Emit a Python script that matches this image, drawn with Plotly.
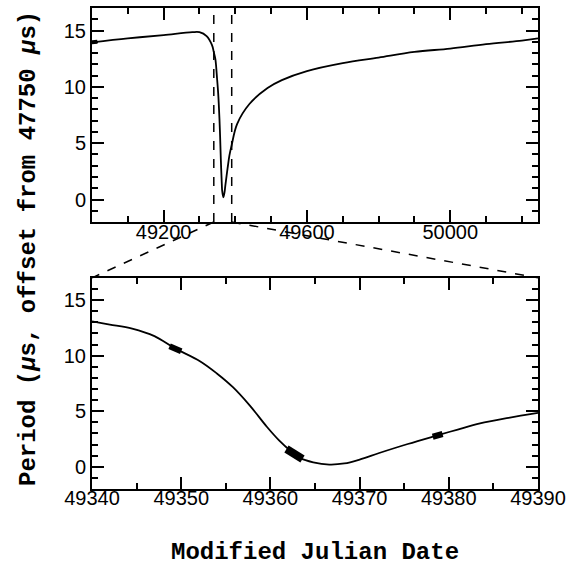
import plotly.graph_objects as go

# ---- data ----
top_x = [49000, 49100, 49200, 49280, 49300, 49320, 49335, 49340, 49344.5, 49349.3, 49352.1,
         49355.8, 49357.7, 49359.6, 49362.3, 49363.3, 49366.6, 49370, 49372.2, 49378.6,
         49383.5, 49390, 49405, 49440, 49490, 49530, 49600, 49700, 49800, 49900,
         50000, 50100, 50200, 50245]
top_y = [13.95, 14.3, 14.6, 14.85, 14.85, 14.5, 13.7, 13.08, 12.43, 10.65, 9.5,
         7.16, 5.5, 3.6, 1.4, 0.8, 0.2, 0.65, 1.24, 2.8,
         3.9, 4.85, 6.7, 8.5, 9.9, 10.6, 11.4, 12.1, 12.6, 13.1,
         13.4, 13.8, 14.1, 14.3]

bot_x = [49340, 49342, 49344.5, 49347, 49349.3, 49352.1, 49354, 49355.8, 49357.7, 49359.6,
         49361, 49362.3, 49363.3, 49364.8, 49366.6, 49368.3, 49370, 49372.2, 49375.4,
         49378.6, 49381, 49383.5, 49386.7, 49390]
bot_y = [13.08, 12.8, 12.43, 11.75, 10.65, 9.5, 8.4, 7.16, 5.5, 3.6,
         2.35, 1.4, 0.8, 0.4, 0.2, 0.3, 0.65, 1.24, 2.05,
         2.8, 3.35, 3.9, 4.4, 4.85]

# observed data segments (thick)
seg1_x, seg1_y = [48999, 49015], [13.95, 14.0]
seg2_x, seg2_y = [49348.7, 49350.0], [10.85, 10.4]
seg3_x, seg3_y = [49361.8, 49363.6], [1.6, 0.7]
seg4_x, seg4_y = [49378.2, 49379.3], [2.7, 2.95]

top_range = [49000, 50245]
bot_range = [49340, 49390]
y_range = [-2, 17]
top_dom = [0.555, 1.0]
bot_dom = [0.0, 0.439]

fig = go.Figure()
ln = dict(color="black", width=1.8, shape="spline", smoothing=1.0)
fig.add_trace(go.Scatter(x=top_x, y=top_y, mode="lines", line=ln, xaxis="x", yaxis="y"))
fig.add_trace(go.Scatter(x=bot_x, y=bot_y, mode="lines", line=ln, xaxis="x2", yaxis="y2"))
fig.add_trace(go.Scatter(x=seg1_x, y=seg1_y, mode="lines", line=dict(color="black", width=4),
                         xaxis="x", yaxis="y"))
for sx, sy, w in [(seg2_x, seg2_y, 6), (seg3_x, seg3_y, 8), (seg4_x, seg4_y, 6)]:
    fig.add_trace(go.Scatter(x=sx, y=sy, mode="lines", line=dict(color="black", width=w),
                             xaxis="x2", yaxis="y2"))

tickfont = dict(family="Liberation Sans, Arial", size=20, color="black")
common = dict(showline=True, linewidth=2, linecolor="black", mirror="ticks",
              ticks="inside", ticklen=12, tickwidth=1.5, tickcolor="black",
              showgrid=False, zeroline=False, tickfont=tickfont,
              tickformat="d", separatethousands=False)
minor_style = dict(ticklen=6, tickwidth=1.5, tickcolor="black", ticks="inside", showgrid=False)

fig.update_layout(
    width=574, height=576,
    margin=dict(l=92, r=36, t=6, b=87),
    paper_bgcolor="white", plot_bgcolor="white",
    showlegend=False,
    xaxis=dict(domain=[0, 1], range=top_range, anchor="y", tick0=49200, dtick=400,
               ticklabelstandoff=-9,
               minor=dict(dtick=100, **minor_style), **common),
    yaxis=dict(domain=top_dom, range=y_range, anchor="x", tick0=0, dtick=5,
               minor=dict(dtick=1, **minor_style), **common),
    xaxis2=dict(domain=[0, 1], range=bot_range, anchor="y2", tick0=49340, dtick=10,
                ticklabelstandoff=-10,
                minor=dict(dtick=5, **minor_style), **common),
    yaxis2=dict(domain=bot_dom, range=y_range, anchor="x2", tick0=0, dtick=5,
                minor=dict(dtick=1, **minor_style), **common),
)

dash = dict(color="black", width=1.5, dash="dash")
for xv in bot_range:
    fig.add_shape(type="line", xref="x", yref="y", x0=xv, x1=xv, y0=y_range[0], y1=y_range[1],
                  line=dash)

def px(xv):
    return (xv - top_range[0]) / (top_range[1] - top_range[0])

for xv, xb in [(bot_range[0], 0.0), (bot_range[1], 1.0)]:
    fig.add_shape(type="line", xref="paper", yref="paper", x0=px(xv), y0=top_dom[0],
                  x1=xb, y1=bot_dom[1], line=dash)

labfont = dict(family="Liberation Mono", size=24, color="black", weight="bold")
fig.add_annotation(text="Modified Julian Date", xref="paper", yref="paper", x=0.5, y=-0.133,
                   showarrow=False, font=labfont, xanchor="center", yanchor="middle")
fig.add_annotation(text="Period (<i>μ</i>s, offset from 47750 <i>μ</i>s)", xref="paper",
                   yref="paper", x=-0.1435, y=0.501, textangle=-90, showarrow=False,
                   font=labfont, xanchor="center", yanchor="middle")

fig.write_html("out.html", post_script="document.body.style.margin='0';",
               config={"displayModeBar": False})
